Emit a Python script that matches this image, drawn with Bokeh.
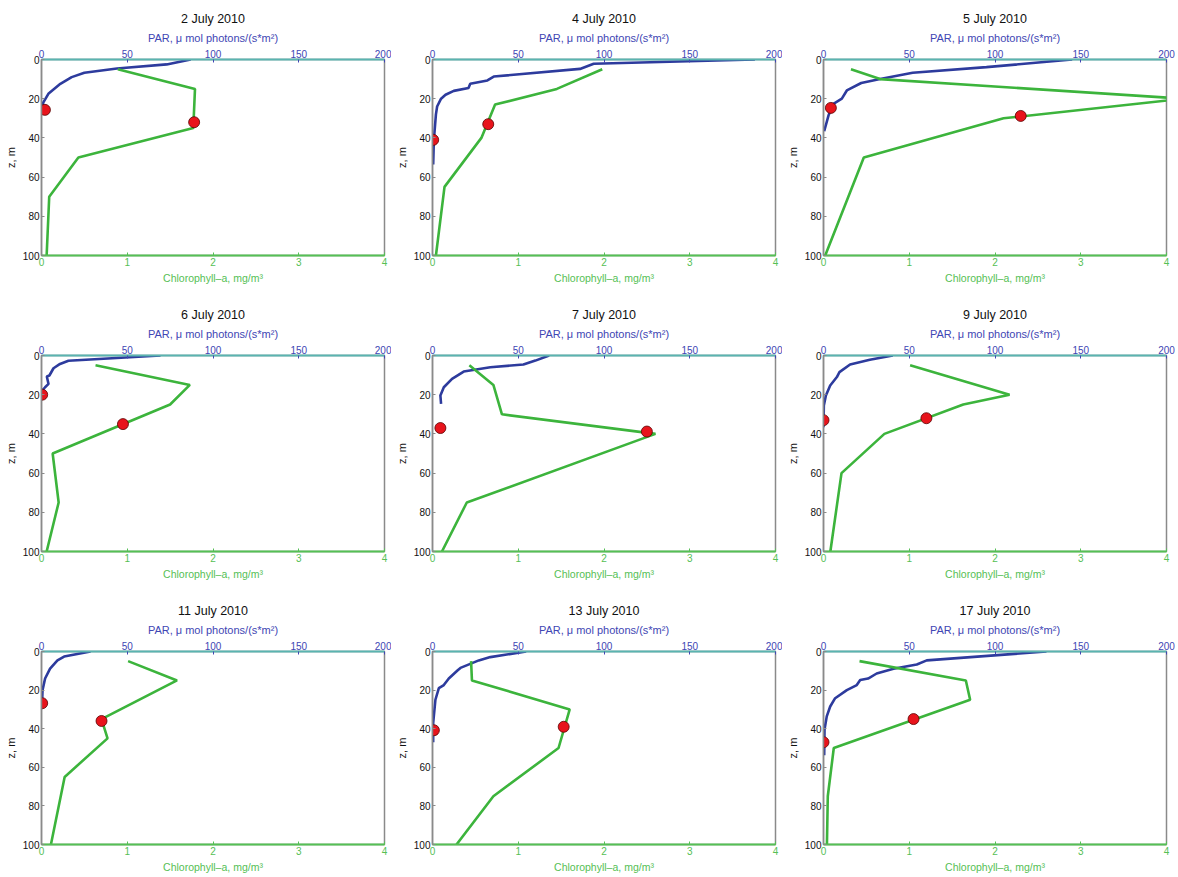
from bokeh.plotting import figure
from bokeh.models import Range1d, LinearAxis, FixedTicker
from bokeh.layouts import column, row
from bokeh.embed import file_html
from bokeh.resources import INLINE

# ---------------- data ----------------
titles = ["2 July 2010", "4 July 2010", "5 July 2010",
          "6 July 2010", "7 July 2010", "9 July 2010",
          "11 July 2010", "13 July 2010", "17 July 2010"]

par_ticks = [0, 50, 100, 150, 200]
chl_ticks = [0, 1, 2, 3, 4]
depth_ticks = [0, 20, 40, 60, 80, 100]

# 2 July
par_z_02 = [0, 2.5, 4.6, 6.8, 9, 12.4, 17.5, 22, 25]
par_02 = [87, 73, 44, 25, 17.6, 11, 4, 1, 0.5]
chl_z_02 = [5, 15, 35, 50, 70, 100]
chl_02 = [0.89, 1.79, 1.77, 0.43, 0.09, 0.06]
par_dot_02 = (2, 25.7)
chl_dot_02 = (1.78, 32)

# 4 July
par_z_04 = [0, 2.2, 4.8, 8.7, 10.7, 12.4, 14.5, 16, 18, 20, 24, 28, 41, 53.6]
par_04 = [188, 94, 86, 35.7, 32, 22, 21, 12.4, 7.6, 5, 2.7, 2, 0.8, 0.4]
chl_z_04 = [5, 15, 23, 40, 65, 100]
chl_04 = [1.98, 1.45, 0.73, 0.57, 0.14, 0.04]
par_dot_04 = (0.4, 41)
chl_dot_04 = (0.65, 33)

# 5 July
par_z_05 = [0, 3.9, 6.8, 9.9, 12, 15.8, 20, 22.6, 28.6, 36.6]
par_05 = [145, 95, 52, 33, 22, 13.6, 10.7, 5.8, 2.9, 0.4]
chl_z_05 = [5, 10, 20, 30, 50, 100]
chl_05 = [0.32, 0.66, 4.2, 2.1, 0.47, 0.02]
par_dot_05 = (4.3, 24.7)
chl_dot_05 = (2.3, 28.8)

# 6 July
par_z_06 = [0, 2.7, 4.3, 6.5, 10.2, 10.7, 14.5, 16.2, 17.9]
par_06 = [69.4, 15.7, 10.8, 7, 4.6, 3.1, 4.1, 2.1, 0.4]
chl_z_06 = [5, 15, 25, 50, 75, 100]
chl_06 = [0.63, 1.73, 1.5, 0.13, 0.2, 0.06]
par_dot_06 = (0.4, 20)
chl_dot_06 = (0.95, 35)

# 7 July
par_z_07 = [0, 2.6, 4.6, 6, 8.2, 11.9, 16.2, 20.4, 24.7]
par_07 = [68, 60, 53, 33.7, 18.2, 11.4, 6.6, 4.6, 5]
chl_z_07 = [5, 15, 30, 40, 75, 100]
chl_07 = [0.43, 0.71, 0.81, 2.6, 0.4, 0.11]
par_dot_07 = (4.6, 37)
chl_dot_07 = (2.5, 38.8)

# 9 July
par_z_09 = [0, 2.2, 4.6, 8.5, 11, 15.3, 20.4, 25.5, 36.6]
par_09 = [40.4, 27, 15.5, 9.3, 7.8, 3.9, 1.4, 0.2, 0]
chl_z_09 = [5, 20, 25, 40, 60, 100]
chl_09 = [1.01, 2.17, 1.63, 0.71, 0.21, 0.08]
par_dot_09 = (0, 33)
chl_dot_09 = (1.2, 32)

# 11 July
par_z_11 = [0, 2.6, 4.6, 8.9, 14, 20, 25]
par_11 = [28.6, 13.2, 9.3, 5, 2.1, 0.6, 0.4]
chl_z_11 = [5, 15, 35, 45, 65, 100]
chl_11 = [1.01, 1.58, 0.7, 0.77, 0.27, 0.11]
par_dot_11 = (0.4, 26.8)
chl_dot_11 = (0.7, 36)

# 13 July
par_z_13 = [0, 2.9, 4.6, 8.5, 9.7, 14, 17.4, 19, 25, 37, 47]
par_13 = [54.6, 33.7, 27, 16.3, 14.7, 9.5, 6.6, 3.7, 1.7, 0.4, 0.4]
chl_z_13 = [5, 15, 30, 50, 75, 100]
chl_13 = [0.45, 0.46, 1.6, 1.47, 0.71, 0.28]
par_dot_13 = (0.8, 40.8)
chl_dot_13 = (1.53, 39)

# 17 July
par_z_17 = [0, 4.6, 6.7, 8.9, 11.4, 14, 14.8, 17.4, 20, 24.2, 28.5, 33.6, 40.4, 53.8]
par_17 = [130, 60.2, 54.4, 40.8, 31, 26, 21.4, 19.4, 13.6, 6.8, 3.9, 1.9, 0.6, 0.4]
chl_z_17 = [5, 15, 25, 50, 75, 100]
chl_17 = [0.42, 1.66, 1.71, 0.12, 0.05, 0.04]
par_dot_17 = (0, 47)
chl_dot_17 = (1.05, 35)

panels = [
    (par_z_02, par_02, chl_z_02, chl_02, par_dot_02, chl_dot_02),
    (par_z_04, par_04, chl_z_04, chl_04, par_dot_04, chl_dot_04),
    (par_z_05, par_05, chl_z_05, chl_05, par_dot_05, chl_dot_05),
    (par_z_06, par_06, chl_z_06, chl_06, par_dot_06, chl_dot_06),
    (par_z_07, par_07, chl_z_07, chl_07, par_dot_07, chl_dot_07),
    (par_z_09, par_09, chl_z_09, chl_09, par_dot_09, chl_dot_09),
    (par_z_11, par_11, chl_z_11, chl_11, par_dot_11, chl_dot_11),
    (par_z_13, par_13, chl_z_13, chl_13, par_dot_13, chl_dot_13),
    (par_z_17, par_17, chl_z_17, chl_17, par_dot_17, chl_dot_17),
]

# ---------------- style ----------------
FONT = "Liberation Sans"
BLUE_LINE = "#2d3b9d"
BLUE_TEXT = "#4146b4"
GREEN_LINE = "#3cb43c"
GREEN_TEXT = "#55c055"
TEAL = "#5ab4b0"
GRAY = "#8a8a8a"
RED = "#e8141c"


def make_panel(title, data, width, height, border_right, border_bottom):
    par_z, par, chl_z, chl, par_dot, chl_dot = data
    p = figure(width=width, height=height, output_backend="svg", toolbar_location=None,
               x_range=Range1d(0, 4), y_range=Range1d(100, 0),
               min_border_left=41, min_border_right=border_right,
               min_border_top=59, min_border_bottom=border_bottom,
               title=title)
    p.extra_x_ranges = {"par": Range1d(0, 200)}
    p.background_fill_color = "white"
    p.border_fill_color = "white"
    p.outline_line_color = GRAY
    p.outline_line_width = 1.5
    p.grid.visible = False

    p.title.align = "center"
    p.title.text_font = FONT
    p.title.text_font_size = "12.5px"
    p.title.text_font_style = "normal"
    p.title.text_color = "#111111"
    p.title.standoff = 5

    top = LinearAxis(x_range_name="par", axis_label="PAR, μ mol photons/(s*m²)")
    p.add_layout(top, "above")

    for ax in p.below:
        ax.axis_label = "Chlorophyll–a, mg/m³"
        ax.ticker = FixedTicker(ticks=chl_ticks)
        ax.axis_line_color = GREEN_TEXT
        ax.axis_line_width = 2
        ax.major_tick_line_color = GREEN_TEXT
        ax.major_label_text_color = GREEN_TEXT
        ax.axis_label_text_color = GREEN_TEXT
        ax.axis_label_text_font_size = "10.5px"
    top.ticker = FixedTicker(ticks=par_ticks)
    top.axis_line_color = TEAL
    top.axis_line_width = 2
    top.major_tick_line_color = BLUE_TEXT
    top.major_label_text_color = BLUE_TEXT
    top.axis_label_text_color = BLUE_TEXT
    top.axis_label_text_font_size = "11px"
    for ax in p.left:
        ax.axis_label = "z, m"
        ax.ticker = FixedTicker(ticks=depth_ticks)
        ax.axis_line_color = GRAY
        ax.axis_line_width = 1.5
        ax.major_tick_line_color = GRAY
        ax.major_label_text_color = "#111111"
        ax.axis_label_text_color = "#111111"
        ax.axis_label_text_font_size = "11px"
    for ax in p.below + p.above + p.left:
        ax.major_tick_in = 3
        ax.major_tick_out = 0
        ax.minor_tick_line_color = None
        ax.major_label_standoff = 2
        ax.axis_label_standoff = 3
        ax.major_label_text_font = FONT
        ax.major_label_text_font_size = "10px"
        ax.axis_label_text_font = FONT
        ax.axis_label_text_font_style = "normal"

    p.line(par, par_z, x_range_name="par", line_color=BLUE_LINE, line_width=2.6)
    p.line(chl, chl_z, line_color=GREEN_LINE, line_width=2.6)
    p.scatter([par_dot[0]], [par_dot[1]], x_range_name="par", size=11,
              fill_color=RED, line_color="#5a0000", line_width=0.8)
    p.scatter([chl_dot[0]], [chl_dot[1]], size=11,
              fill_color=RED, line_color="#5a0000", line_width=0.8)
    return p


col_widths = [391, 391, 393]
col_right = [7, 7, 9]
row_heights = [296, 296, 283]
row_bottom = [41, 41, 28]

rows = []
for r in range(3):
    figs = []
    for c in range(3):
        i = r * 3 + c
        figs.append(make_panel(titles[i], panels[i], col_widths[c], row_heights[r],
                               col_right[c], row_bottom[r]))
    rows.append(row(*figs))

layout = column(*rows)

open("out.html", "w").write(file_html(layout, INLINE))
